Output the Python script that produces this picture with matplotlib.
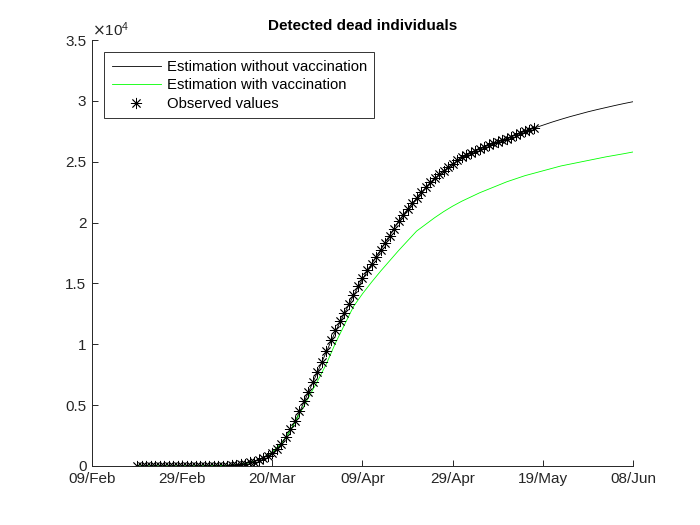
import numpy as np
import matplotlib
matplotlib.use("Agg")
import matplotlib.pyplot as plt
import matplotlib.dates as mdates
import matplotlib.ticker as ticker

plt.rcParams["font.family"] = ["Liberation Sans", "DejaVu Sans"]

# observed cumulative deaths, one value per day from 19/Feb to 17/May 2020
obs_start = "2020-02-19"
observed = [
    0, 0, 0, 0, 0, 0, 0, 0, 0, 0, 0, 0, 0,
    1, 2, 3, 5, 10, 17, 28, 35, 54, 84, 133, 195, 289, 342, 533, 623, 830,
    1043, 1375, 1772, 2400, 3000, 3700, 4500, 5300, 6100, 6900, 7700, 8550,
    9450, 10350, 11150, 11900, 12600, 13300, 14050, 14800, 15450, 16100,
    16600, 17200, 17750, 18300, 18900, 19500, 20100, 20600, 21100, 21600,
    22050, 22500, 22900, 23300, 23650, 23950, 24250, 24550, 24850, 25100,
    25350, 25550, 25750, 25900, 26050, 26200, 26350, 26500, 26600, 26750,
    26900, 27050, 27200, 27350, 27500, 27600, 27750,
]

# model estimates, every 2 days from 19/Feb to 08/Jun 2020
est_start = "2020-02-19"
est_no_vacc = [
    0, 0, 0, 0, 0, 0, 2, 5, 10, 20, 45, 95, 200, 380, 680, 1150, 1850, 2900,
    4400, 6050, 7700, 9400, 11050, 12550, 14000, 15350, 16600, 17750, 18950,
    20100, 21100, 22000, 22850, 23600, 24250, 24800, 25300, 25700, 26050,
    26350, 26620, 26900, 27200, 27480, 27750, 28000, 28250, 28480, 28700,
    28900, 29100, 29280, 29450, 29620, 29780, 29930,
]
est_vacc = [
    0, 0, 0, 0, 0, 0, 2, 5, 10, 20, 45, 95, 200, 380, 680, 1150, 1850, 2900,
    4250, 5600, 6950, 8400, 10100, 11600, 13100, 14150, 15100, 16000, 16850,
    17700, 18500, 19300, 19850, 20400, 20900, 21350, 21750, 22100, 22450,
    22750, 23050, 23350, 23600, 23850, 24050, 24250, 24450, 24650, 24800,
    24950, 25100, 25250, 25400, 25530, 25660, 25800,
]

tick_dates = ["2020-02-09", "2020-02-29", "2020-03-20", "2020-04-09",
              "2020-04-29", "2020-05-19", "2020-06-08"]

obs_x = np.datetime64(obs_start) + np.arange(len(observed))
est_x = np.datetime64(est_start) + 2 * np.arange(len(est_no_vacc))

fig = plt.figure(figsize=(7, 5.25), dpi=100)
ax = fig.add_axes([0.1314, 0.1124, 0.7729, 0.8114])

axcol = "#262626"
ax.plot(est_x, est_no_vacc, color="black", lw=0.6, label="Estimation without vaccination")
ax.plot(est_x, est_vacc, color="#00ff00", lw=0.6, label="Estimation with vaccination")
ax.plot(obs_x, observed, ls="none", marker=(8, 2, 0), ms=8, mew=0.6,
        color="black", label="Observed values")

ax.set_xlim(np.datetime64(tick_dates[0]), np.datetime64(tick_dates[-1]))
ax.set_ylim(0, 35000)
ax.set_xticks([np.datetime64(d) for d in tick_dates])
ax.xaxis.set_major_formatter(mdates.DateFormatter("%d/%b"))
ax.set_yticks(np.arange(0, 35001, 5000))
ax.yaxis.set_major_formatter(ticker.FuncFormatter(lambda v, p: f"{v/1e4:g}"))

for side in ["top", "right"]:
    ax.spines[side].set_visible(False)
for side in ["left", "bottom"]:
    ax.spines[side].set_color(axcol)
    ax.spines[side].set_linewidth(0.7)
ax.tick_params(direction="in", length=4.5, width=0.7, colors=axcol,
               labelsize=11, pad=4)

ax.text(0.0, 1.003, r"$\times\mathregular{10^4}$", transform=ax.transAxes,
        ha="left", va="bottom", fontsize=11, color=axcol)
ax.set_title("Detected dead individuals", fontsize=11, fontweight="bold",
             color="black", pad=7)

leg = ax.legend(loc="upper left", bbox_to_anchor=(0.0227, 0.971),
                borderaxespad=0, fontsize=10.7, frameon=True, fancybox=False,
                handlelength=3.3, handletextpad=0.4, borderpad=0.5,
                labelspacing=0.3)
leg.get_frame().set_edgecolor("black")
leg.get_frame().set_linewidth(0.7)

fig.savefig("out.png", dpi=100)
